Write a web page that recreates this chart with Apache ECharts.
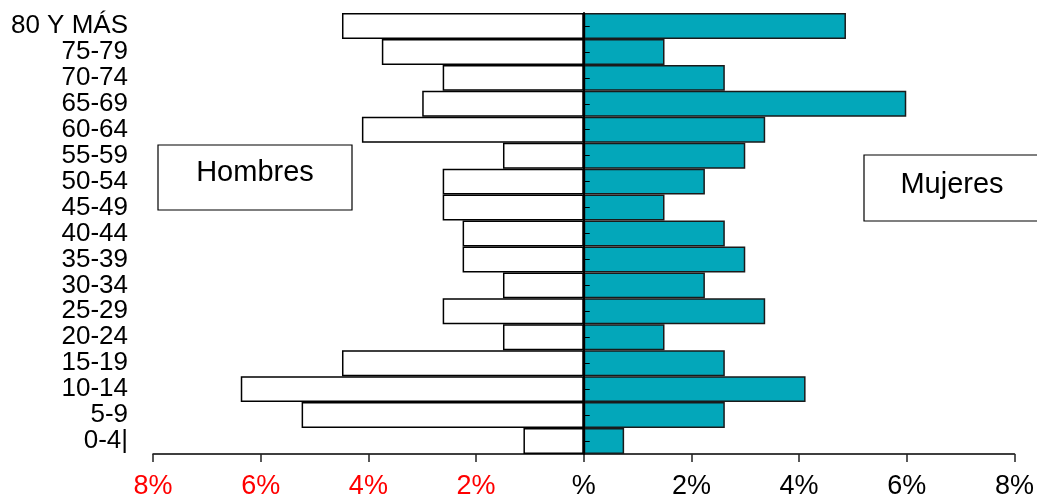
<!DOCTYPE html>
<html>
<head>
<meta charset="utf-8">
<script src="https://cdn.jsdelivr.net/npm/echarts@6/dist/echarts.min.js"></script>
<style>html,body{margin:0;padding:0;background:#fff}#c{width:1037px;height:500px}</style>
</head>
<body>
<div id="c"></div>
<script>
// Age groups, top to bottom
var categories = ['80 Y MÁS','75-79','70-74','65-69','60-64','55-59','50-54','45-49','40-44','35-39','30-34','25-29','20-24','15-19','10-14','5-9','0-4|'];
// Percent of population
var hombres = [4.49, 3.75, 2.62, 3.00, 4.12, 1.50, 2.62, 2.62, 2.25, 2.25, 1.50, 2.62, 1.50, 4.49, 6.37, 5.24, 1.12];
var mujeres = [4.87, 1.50, 2.62, 5.99, 3.37, 3.00, 2.25, 1.50, 2.62, 3.00, 2.25, 3.37, 1.50, 2.62, 4.12, 2.62, 0.75];
var xTickValues = [-8, -6, -4, -2, 0, 2, 4, 6, 8];
var xTickLabels = ['8%', '6%', '4%', '2%', '%', '2%', '4%', '6%', '8%'];

var FONT = 'Liberation Sans, Arial, sans-serif';
var chart = echarts.init(document.getElementById('c'), null, {renderer: 'canvas'});
chart.setOption({
  animation: false,
  backgroundColor: '#fff',
  grid: {left: 153, right: 22, top: 13, bottom: 41, containLabel: false},
  xAxis: {
    type: 'value', min: -8, max: 8, interval: 2,
    splitLine: {show: false},
    axisLine: {show: true, onZero: false, lineStyle: {color: '#000', width: 1.5}},
    axisTick: {show: true, length: 8, lineStyle: {color: '#222', width: 1.5}},
    axisLabel: {
      margin: 19, fontSize: 27, fontFamily: FONT,
      formatter: function (v) { var i = xTickValues.indexOf(v); return i >= 0 ? xTickLabels[i] : ''; },
      color: function (v) { return v < 0 ? '#ff0000' : '#000'; }
    }
  },
  yAxis: [{
    type: 'category', data: categories, inverse: true, position: 'left',
    axisLine: {show: false, onZero: false},
    axisTick: {show: false},
    axisLabel: {interval: 0, margin: 25, fontSize: 26, color: '#000', fontFamily: FONT}
  }, {
    type: 'category', data: categories, inverse: true, position: 'left', z: 10,
    axisLine: {show: true, onZero: true, lineStyle: {color: '#000', width: 2}},
    axisTick: {show: true, interval: 0, inside: true, alignWithLabel: true, length: 6, lineStyle: {color: '#000', width: 1}},
    axisLabel: {show: false}
  }],
  series: [{
    name: 'Hombres', type: 'bar', yAxisIndex: 0,
    data: hombres.map(function (v) { return -v; }),
    barCategoryGap: 0, barGap: '-100%',
    itemStyle: {color: '#fff', borderColor: '#000', borderWidth: 1.5}
  }, {
    name: 'Mujeres', type: 'bar', yAxisIndex: 0,
    data: mujeres,
    barCategoryGap: 0, barGap: '-100%',
    itemStyle: {color: '#03A7BA', borderColor: '#1a1a1a', borderWidth: 1.5}
  }],
  graphic: [
    {type: 'rect', shape: {x: 158, y: 145, width: 194, height: 65}, style: {fill: '#fff', stroke: '#000', lineWidth: 1.2}, z: 100},
    {type: 'text', x: 255, y: 173, style: {text: 'Hombres', font: '29px ' + FONT, fill: '#000', textAlign: 'center', textVerticalAlign: 'middle'}, z: 101},
    {type: 'rect', shape: {x: 864, y: 155, width: 190, height: 66}, style: {fill: '#fff', stroke: '#000', lineWidth: 1.2}, z: 100},
    {type: 'text', x: 952, y: 185, style: {text: 'Mujeres', font: '29px ' + FONT, fill: '#000', textAlign: 'center', textVerticalAlign: 'middle'}, z: 101}
  ]
});
</script>
</body>
</html>
